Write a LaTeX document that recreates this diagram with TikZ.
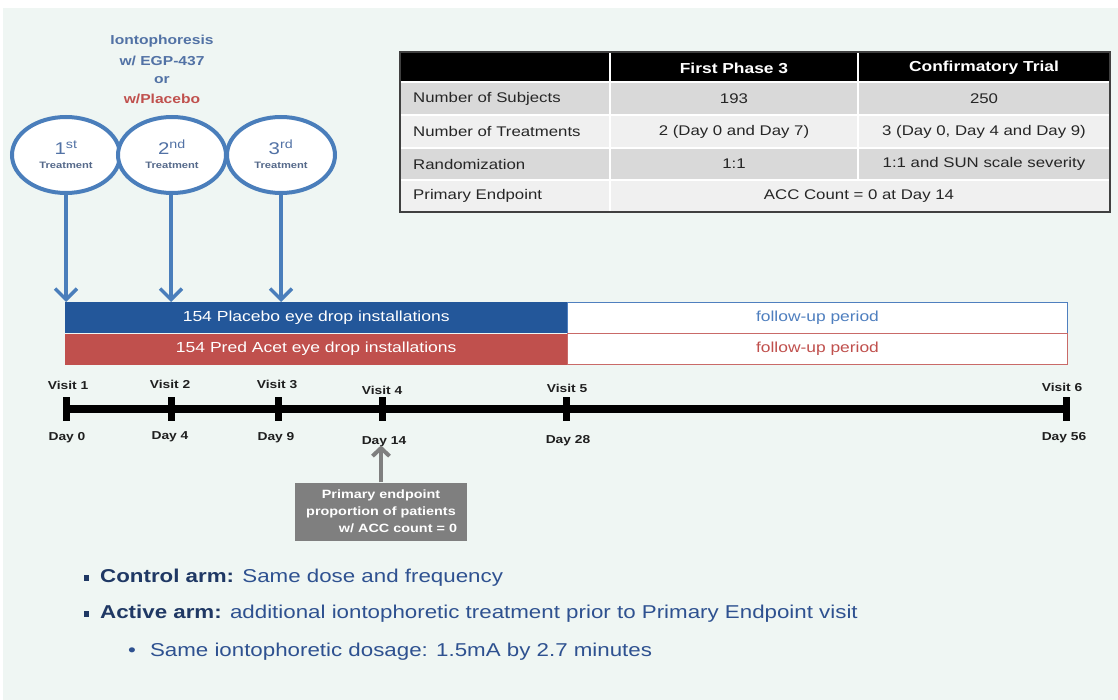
\documentclass[tikz,border=0pt]{standalone}
\usepackage{fontspec}
\setmainfont[FakeStretch=1.2]{Liberation Sans}
\usetikzlibrary{arrows.meta,shapes.geometric}
\definecolor{bg}{HTML}{EFF6F3}
\definecolor{eblue}{HTML}{4A7EBB}
\definecolor{tblue}{HTML}{5272A5}
\definecolor{tgray}{HTML}{55698A}
\definecolor{pred}{HTML}{C0504D}
\definecolor{barblue}{HTML}{23579A}
\definecolor{fublue}{HTML}{4F7FBF}
\definecolor{navy}{HTML}{1F3864}
\definecolor{navytxt}{HTML}{2E5190}
\definecolor{rowdark}{HTML}{D9D9D9}
\definecolor{rowlight}{HTML}{F0F0F0}
\definecolor{gbox}{HTML}{7F7F7F}
\definecolor{txt}{HTML}{262626}
\newcommand\fsz[2]{\fontsize{#1}{#2}\selectfont}
\begin{document}
\begin{tikzpicture}[x=1pt,y=-1pt,
  treat/.style={ellipse, draw=eblue, line width=4pt, fill=white, minimum width=108pt, minimum height=76pt, inner sep=0pt, align=center},
  tharrow/.style={draw=eblue, line width=3.5pt, -{Straight Barb[length=11pt,width=22pt]}},
  garrow/.style={draw=gbox, line width=4pt, -{Straight Barb[length=8pt,width=17pt]}},
  title/.style={font=\fsz{13}{15}\bfseries, text=tblue, inner sep=0pt},
  bar/.style={anchor=north west, minimum width=502pt, minimum height=31pt, inner sep=0pt, text=white, font=\fsz{14.6}{16}},
  fubox/.style={anchor=north west, minimum width=500pt, minimum height=31pt, inner sep=0pt, fill=white, line width=1pt, font=\fsz{14.5}{16}},
  cell/.style={font=\fsz{14}{16}, text=txt, inner sep=0pt},
  hcell/.style={font=\fsz{14.5}{16}\bfseries, text=white, inner sep=0pt},
  tl/.style={font=\fsz{11.5}{13}\bfseries, text=black!88, inner sep=0pt},
  tick/.style={line width=7pt},
  btxt/.style={anchor=west, inner sep=0pt, font=\fsz{18.6}{20}, text=navytxt}
]
\useasboundingbox (0,0) rectangle (1118,700);
\fill[white] (0,0) rectangle (1118,700);
\fill[bg] (3,8) rectangle (1118,700);

% title text
\node[title] (t1) at (162,41) {Iontophoresis};
\node[title] (t2) at (162,61) {w/ EGP-437};
\node[title] (t3) at (162,80) {or};
\node[title, text=pred] (t4) at (162,99) {w/Placebo};

% treatment ellipses
\node[treat] (e1) at (66,155) {\raisebox{0pt}[14pt][0pt]{\fsz{17}{17}\color{tblue}1\textsuperscript{st}}\\[2pt]{\fsz{9.3}{10}\bfseries\color{tgray}Treatment}};
\node[treat] (e2) at (172,155) {\raisebox{0pt}[14pt][0pt]{\fsz{17}{17}\color{tblue}2\textsuperscript{nd}}\\[2pt]{\fsz{9.3}{10}\bfseries\color{tgray}Treatment}};
\node[treat] (e3) at (281,155) {\raisebox{0pt}[14pt][0pt]{\fsz{17}{17}\color{tblue}3\textsuperscript{rd}}\\[2pt]{\fsz{9.3}{10}\bfseries\color{tgray}Treatment}};

% bars
\node[bar, fill=barblue] (pb) at (65,302) {154 Placebo eye drop installations};
\node[bar, fill=pred] (pr) at (65,333.5) {154 Pred Acet eye drop installations};
\node[fubox, draw=fublue, text=fublue] (fb) at (567,302) {follow-up period};
\node[fubox, draw=pred!85, text=pred] (fr) at (567,333) {follow-up period};

% treatment arrows
\draw[tharrow] (e1.south) -- (e1.south |- pb.north);
\draw[tharrow] ([xshift=-1pt]e2.south) -- ([xshift=-1pt]e2.south |- pb.north);
\draw[tharrow] (e3.south) -- (e3.south |- pb.north);

% table
\fill[black] (400,52) rectangle (1110,82);
\fill[rowdark] (400,82) rectangle (1110,115);
\fill[rowlight] (400,115) rectangle (1110,148);
\fill[rowdark] (400,148) rectangle (1110,180);
\fill[rowlight] (400,180) rectangle (1110,212);
\draw[white, line width=1.5pt] (400,82) -- (1110,82) (400,115) -- (1110,115) (400,148) -- (1110,148) (400,180) -- (1110,180);
\draw[white, line width=1.5pt] (610,52) -- (610,212) (858,52) -- (858,180);
\draw[black!75, line width=1.5pt] (400,52) rectangle (1110,212);
\node[hcell] (h2) at (734,68) {First Phase 3};
\node[hcell] (h3) at (984,68) {Confirmatory Trial};
\node[cell, anchor=west] (r1) at (413,99) {Number of Subjects};
\node[cell] (r1b) at (734,99) {193};
\node[cell] (r1c) at (984,99) {250};
\node[cell, anchor=west] (r2) at (413,131.5) {Number of Treatments};
\node[cell] (r2b) at (734,131.5) {2 (Day 0 and Day 7)};
\node[cell] (r2c) at (984,131.5) {3 (Day 0, Day 4 and Day 9)};
\node[cell, anchor=west] (r3) at (413,164) {Randomization};
\node[cell] (r3b) at (734,164) {1:1};
\node[cell] (r3c) at (984,164) {1:1 and SUN scale severity};
\node[cell, anchor=west] (r4) at (413,196) {Primary Endpoint};
\node[cell] (r4b) at (859,196) {ACC Count = 0 at Day 14};

% timeline
\draw[line width=8pt] (66,409) -- (1066,409);
\foreach \x in {66,171,278,382,566,1066} \draw[tick] (\x,397) -- (\x,421);
\node[tl] (v1) at (68,385) {Visit 1};
\node[tl] (v2) at (170,384) {Visit 2};
\node[tl] (v3) at (277,384) {Visit 3};
\node[tl] (v4) at (382,390) {Visit 4};
\node[tl] (v5) at (567,388) {Visit 5};
\node[tl] (v6) at (1062,387) {Visit 6};
\node[tl] (d0) at (67,438) {Day 0};
\node[tl] (d4) at (170,437) {Day 4};
\node[tl] (d9) at (276,438) {Day 9};
\node[tl] (d14) at (384,442) {Day 14};
\node[tl] (d28) at (568,441) {Day 28};
\node[tl] (d56) at (1064,438) {Day 56};

% primary endpoint box
\node[fill=gbox, minimum width=172pt, minimum height=58pt, inner sep=0pt, text=white, align=center, font=\fsz{12}{17}\bfseries] (gb) at (381,511.5) {Primary endpoint\\proportion of patients\\\hspace*{34pt}w/ ACC count = 0};
\draw[garrow] (gb.north) -- ([yshift=2pt]gb.north |- d14.south);

% bullets
\fill[navy] (84,575) rectangle (89,581);
\fill[navy] (84,611) rectangle (89,617);
\node[btxt] (b1) at (100,578) {\textcolor{navy}{\bfseries Control arm:} Same dose and frequency};
\node[btxt] (b2) at (100,614) {\textcolor{navy}{\bfseries Active arm:} additional iontophoretic treatment prior to Primary Endpoint visit};
\node[btxt] (b3) at (128,652) {•\hspace{14pt}Same iontophoretic dosage: 1.5mA by 2.7 minutes};
\end{tikzpicture}
\end{document}
